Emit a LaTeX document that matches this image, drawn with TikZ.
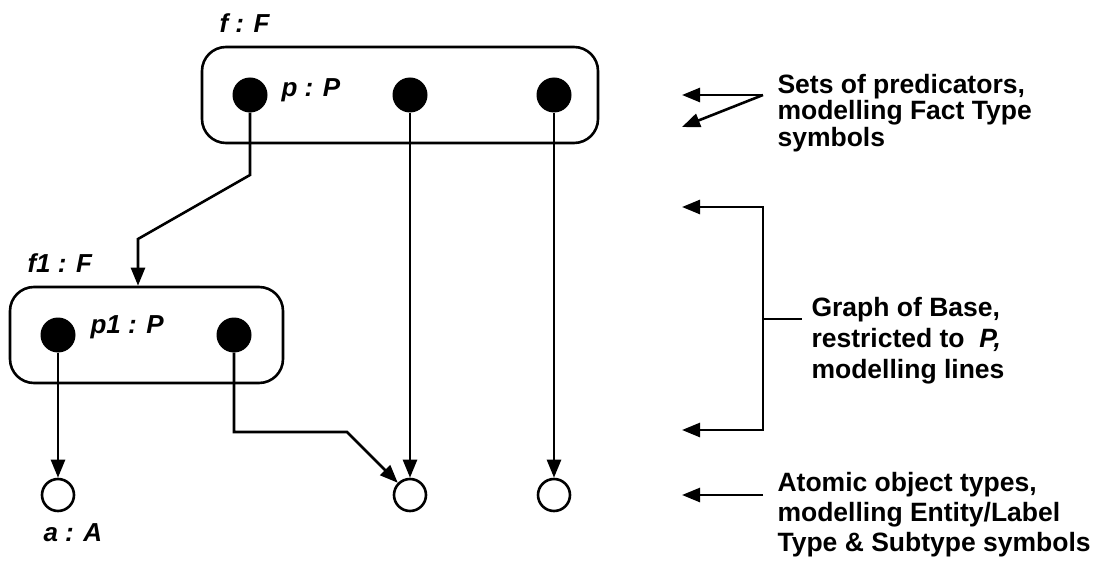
\documentclass[tikz,border=0pt]{standalone}
\usepackage{fontspec}
\setmainfont{Liberation Sans}
\usetikzlibrary{arrows.meta}

\begin{document}
\begin{tikzpicture}[x=1pt, y=-1pt,
    every node/.style={font=\fontsize{26.5}{27}\selectfont\bfseries},
    ftip/.tip={Triangle[length=18pt, width=14pt]},
    dot/.style={circle, fill=black, inner sep=0pt, minimum size=35pt},
    atom/.style={circle, draw, line width=2.6pt, fill=white, inner sep=0pt, minimum size=32pt},
    factbox/.style={draw, rounded corners=24pt, line width=2.6pt, inner sep=0pt},
    lbl/.style={anchor=west, font=\fontsize{26}{26}\selectfont\bfseries\itshape},
    nota/.style={anchor=west, align=left},
    conn/.style={line width=2.6pt, -ftip}]

  \useasboundingbox (0,0) rectangle (1108,564);

  % Cajas de los tipos de hecho
  \node[factbox, minimum width=396pt, minimum height=96pt] (f) at (400,95) {};
  \node[factbox, minimum width=273pt, minimum height=96pt] (f1) at (146.5,335) {};

  % Predicadores
  \node[dot] (p) at (250,95) {};
  \node[dot] (q) at (410,95) {};
  \node[dot] (r) at (554,95) {};
  \node[dot] (p1) at (58,335) {};
  \node[dot] (q1) at (234,335) {};

  % Tipos atomicos
  \node[atom] (a) at (58,495) {};
  \node[atom] (b) at (410,495) {};
  \node[atom] (c) at (554,495) {};

  % Etiquetas
  \node[lbl] (lf) at (216,23) {f : F};
  \node[lbl] (lp) at (278,90) {p : P};
  \node[lbl] (lf1) at (24,263) {f1 : F};
  \node[lbl] (lp1) at (87,327) {p1 : P};
  \node[lbl] (la) at (40,533) {a : A};

  % Lineas del grafo
  \coordinate (k1) at (250,175);
  \coordinate (k2) at (138,239);
  \draw[conn] (p.south) -- (k1) -- (k2) -- (k2 |- f1.north);
  \draw[conn] (q.south) -- (b.north);
  \draw[conn] (r.south) -- (c.north);
  \draw[conn] (p1.south) -- (a.north);
  \coordinate (k3) at (234,432);
  \coordinate (k4) at (347,432);
  \draw[conn] (q1.south) -- (k3) -- (k4) -- (b.north west);

  % Notas a la derecha
  \coordinate (s0) at (763,95);
  \coordinate (s1) at (682,95);
  \coordinate (s2) at (682,127);
  \draw[conn] (s0) -- (s1);
  \draw[conn] (s0) -- (s2);
  \node[nota, font=\fontsize{26.5}{26.5}\selectfont\bfseries] (tsets) at (774,113)
    {Sets of predicators,\\modelling Fact Type\\symbols};

  \coordinate (g0) at (682,207);
  \coordinate (g1) at (763,207);
  \coordinate (g2) at (763,430);
  \coordinate (g3) at (682,430);
  \coordinate (gm) at (763,319);
  \coordinate (gt) at (802,319);
  \draw[line width=2.6pt, ftip-ftip] (g0) -- (g1) -- (g2) -- (g3);
  \draw[line width=2.6pt] (gm) -- (gt);
  \node[nota, font=\fontsize{26.5}{31}\selectfont\bfseries] (tgraph) at (808,341)
    {Graph of Base,\\restricted to~ \textit{P,}\\modelling lines};

  \coordinate (t0) at (763,495);
  \coordinate (t1) at (682,495);
  \draw[conn] (t0) -- (t1);
  \node[nota, font=\fontsize{26.5}{30}\selectfont\bfseries] (tatom) at (774,515)
    {Atomic object types,\\modelling Entity/Label\\Type \& Subtype symbols};
\end{tikzpicture}
\end{document}
